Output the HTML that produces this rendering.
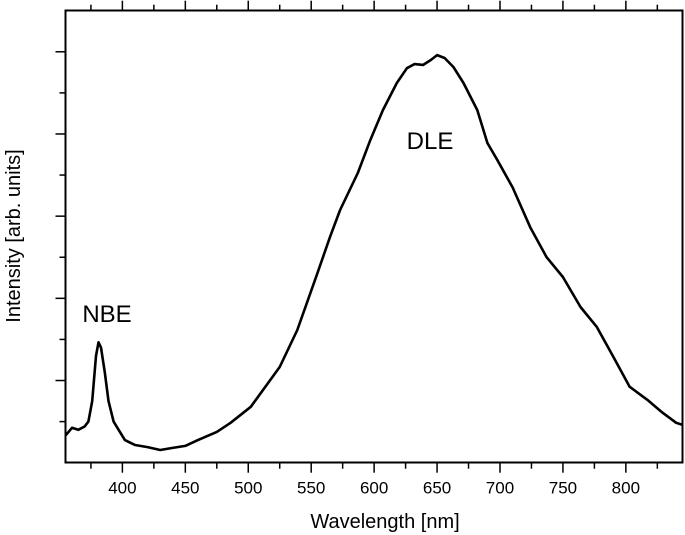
<!DOCTYPE html>
<html><head><meta charset="utf-8"><style>
html,body{margin:0;padding:0;background:#fff;}
svg{display:block;font-family:"Liberation Sans",Arial,sans-serif;}
</style></head><body>
<svg id="chart" width="685" height="535" viewBox="0 0 685 535">
<rect x="65.5" y="10.5" width="617" height="452" fill="none" stroke="#000" stroke-width="2"/>
<g id="xticks"></g>
<g id="yticks"></g>
<path id="curve" fill="none" stroke="#000" stroke-width="2.6" stroke-linejoin="round"/>
<text x="107" y="322" font-size="24" text-anchor="middle">NBE</text>
<text x="430" y="149" font-size="24" text-anchor="middle">DLE</text>
<text x="385" y="528" font-size="20" text-anchor="middle">Wavelength [nm]</text>
<text transform="translate(20,236) rotate(-90)" font-size="20" text-anchor="middle">Intensity [arb. units]</text>
</svg>
<script>
const xTickLabels=[400,450,500,550,600,650,700,750,800];
const wavelengths=[355,360,365,370,373,376,379,381,383,386,389,393,397,402,410,420,430,440,450,460,475,486,502,525,539,555,565,573,587,597,607,618,626,632,639,645,650,656,663,671,682,690,698,710,724,737,750,764,777,790,803,817,829,840,845];
const intensities=[0.67,0.85,0.80,0.88,1.0,1.5,2.6,2.93,2.8,2.2,1.5,1.0,0.8,0.55,0.43,0.38,0.31,0.36,0.41,0.55,0.75,0.97,1.36,2.33,3.23,4.62,5.50,6.15,7.05,7.85,8.58,9.24,9.60,9.70,9.68,9.80,9.92,9.85,9.63,9.24,8.58,7.78,7.36,6.70,5.73,5.00,4.52,3.79,3.30,2.58,1.85,1.53,1.22,0.97,0.92];
const yTicks=[1,2,3,4,5,6,7,8,9,10];
const X0=65.5,X1=682.5,Y0=462.7,Y1=10.7;
const xMin=354.8,xMax=845,yMin=0,yMax=11;
function sx(v){return X0+(v-xMin)/(xMax-xMin)*(X1-X0);}
function sy(v){return Y0-(v-yMin)/(yMax-yMin)*(Y0-Y1);}
const NS="http://www.w3.org/2000/svg";
const xg=document.getElementById('xticks'),yg=document.getElementById('yticks');
for(let v=375;v<=825;v+=25){
  const major=v%50===0;const x=sx(v);
  const t=document.createElementNS(NS,'line');
  t.setAttribute('x1',x);t.setAttribute('x2',x);t.setAttribute('y1',Y0);t.setAttribute('y2',Y0+(major?10:6));
  t.setAttribute('stroke','#000');t.setAttribute('stroke-width','1.5');
  
  
  xg.appendChild(t);
  const t2=document.createElementNS(NS,'line');
  t2.setAttribute('x1',x);t2.setAttribute('x2',x);t2.setAttribute('y1',Y1);t2.setAttribute('y2',Y1-(major?10:6));
  t2.setAttribute('stroke','#000');t2.setAttribute('stroke-width','1.5');
  
  
  xg.appendChild(t2);
}
xTickLabels.forEach(v=>{
  const tx=document.createElementNS(NS,'text');
  tx.setAttribute('x',sx(v));tx.setAttribute('y',Y0+31);tx.setAttribute('font-size','17');tx.setAttribute('text-anchor','middle');
  tx.textContent=v;
  
  
  xg.appendChild(tx);
});
yTicks.forEach(v=>{
  const major=v%2===0;const y=sy(v);
  const t=document.createElementNS(NS,'line');
  t.setAttribute('x1',X0);t.setAttribute('x2',X0-(major?10:6));t.setAttribute('y1',y);t.setAttribute('y2',y);
  t.setAttribute('stroke','#000');t.setAttribute('stroke-width','1.5');
  
  
  yg.appendChild(t);
});
let d='';
wavelengths.forEach((w,i)=>{d+=(i?'L':'M')+sx(w).toFixed(1)+','+sy(intensities[i]).toFixed(1);});
document.getElementById('curve').setAttribute('d',d);
</script>
</body></html>
